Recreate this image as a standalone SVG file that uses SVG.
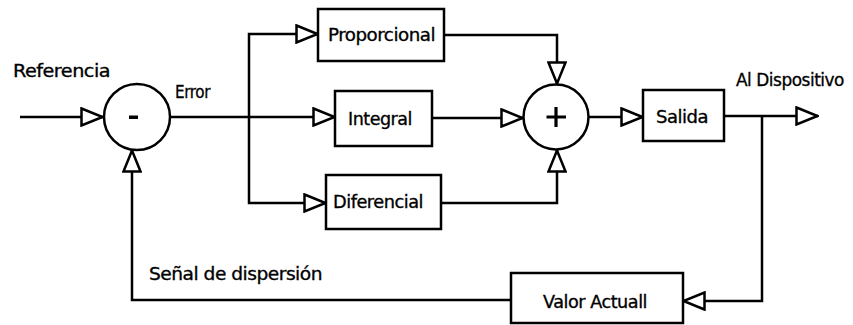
<svg xmlns="http://www.w3.org/2000/svg" width="853" height="325" viewBox="0 0 853 325">
<style>
.b{fill:#fff;stroke:#000;stroke-width:2.5}
.c{fill:none;stroke:#000;stroke-width:2.5;stroke-linejoin:miter}
.t{font-family:"DejaVu Sans","Liberation Sans",sans-serif;font-size:18.5px;fill:#000;stroke:#000;stroke-width:0.35;letter-spacing:-0.5px}
</style>
<defs>
<marker id="a" viewBox="0 0 24 20" refX="23" refY="10" markerWidth="24" markerHeight="20" markerUnits="userSpaceOnUse" orient="auto">
<path d="M1.5,1.5 L22.5,10 L1.5,18.5 Z" fill="#fff" stroke="#000" stroke-width="2.5" stroke-linejoin="miter"/>
</marker>
</defs>
<rect width="853" height="325" fill="#fff"/>
<g id="connectors">
<path class="c" d="M20,117 H103" marker-end="url(#a)"/>
<path class="c" d="M170,117 H335" marker-end="url(#a)"/>
<path class="c" d="M249,117 V34 H318" marker-end="url(#a)"/>
<path class="c" d="M249,117 V203 H326" marker-end="url(#a)"/>
<path class="c" d="M444,35 H557 V84" marker-end="url(#a)"/>
<path class="c" d="M432,118 H523" marker-end="url(#a)"/>
<path class="c" d="M441,203 H557 V150" marker-end="url(#a)"/>
<path class="c" d="M588,117 H643" marker-end="url(#a)"/>
<path class="c" d="M724,116 H818" marker-end="url(#a)"/>
<path class="c" d="M762,116 V301 H683" marker-end="url(#a)"/>
<path class="c" d="M511,300 H132 V150" marker-end="url(#a)"/>
</g>
<g id="resta">
<circle class="b" cx="137" cy="117" r="33"/>
<rect x="129" y="115.5" width="9" height="3.5" fill="#000"/>
</g>
<g id="suma">
<circle class="b" cx="556" cy="117" r="32.5"/>
<path d="M546.5,117 H566 M556,107 V127" stroke="#000" stroke-width="3.2" fill="none"/>
</g>
<g id="proporcional">
<rect class="b" x="318" y="9" width="126" height="52"/>
<text class="t" x="328" y="41" textLength="107" lengthAdjust="spacingAndGlyphs">Proporcional</text>
</g>
<g id="integral">
<rect class="b" x="335" y="91" width="97" height="55"/>
<text class="t" x="348" y="125" textLength="64" lengthAdjust="spacingAndGlyphs">Integral</text>
</g>
<g id="diferencial">
<rect class="b" x="326" y="175" width="115" height="54"/>
<text class="t" x="333" y="208" textLength="90" lengthAdjust="spacingAndGlyphs">Diferencial</text>
</g>
<g id="salida">
<rect class="b" x="643" y="90" width="81" height="51"/>
<text class="t" x="656" y="123" textLength="52" lengthAdjust="spacingAndGlyphs">Salida</text>
</g>
<g id="valor">
<rect class="b" x="511" y="273" width="172" height="50"/>
<text class="t" x="543" y="308" textLength="104" lengthAdjust="spacingAndGlyphs">Valor Actuall</text>
</g>
<g id="labels">
<text class="t" x="13" y="77" textLength="97" lengthAdjust="spacingAndGlyphs">Referencia</text>
<text class="t" x="175" y="98" textLength="35" lengthAdjust="spacingAndGlyphs">Error</text>
<text class="t" x="736" y="86" textLength="108" lengthAdjust="spacingAndGlyphs">Al Dispositivo</text>
<text class="t" x="149" y="280" textLength="173" lengthAdjust="spacingAndGlyphs">Señal de dispersión</text>
</g>
</svg>
